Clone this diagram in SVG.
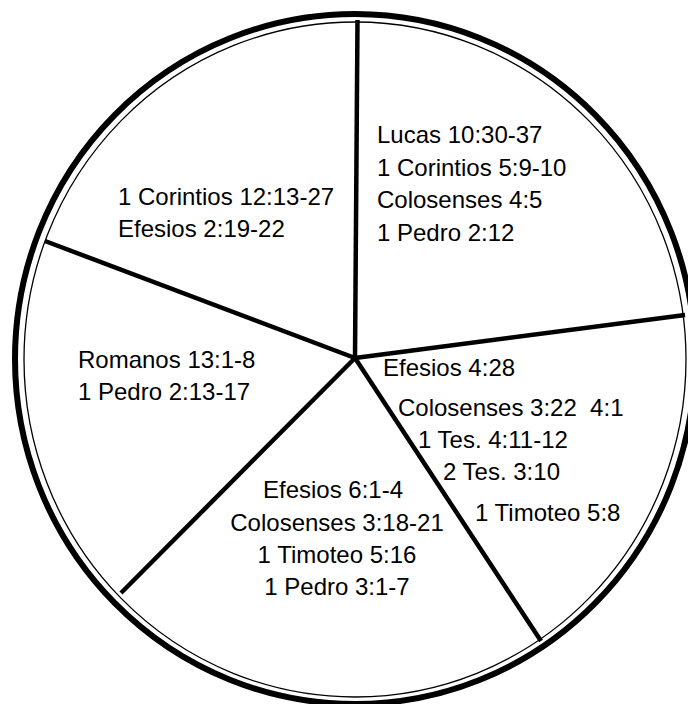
<svg xmlns="http://www.w3.org/2000/svg" width="688" height="704" viewBox="0 0 688 704">
<style>
.t{font-family:"Liberation Sans",Arial,Helvetica,sans-serif;font-size:24px;fill:#000}
.m{text-anchor:middle}
.spoke{stroke:#000;stroke-width:4.5;stroke-linecap:butt;fill:none}
</style>
<rect width="688" height="704" fill="#fff"/>
<g id="rim">
<ellipse cx="355" cy="359" rx="340" ry="345" fill="none" stroke="#000" stroke-width="6"/>
<ellipse cx="355" cy="359.5" rx="331" ry="337.5" fill="none" stroke="#000" stroke-width="1.3"/>
</g>
<g id="connectors">
<line class="spoke" x1="355" y1="358" x2="357.5" y2="20"/>
<line class="spoke" x1="355" y1="358" x2="685" y2="315"/>
<line class="spoke" x1="355" y1="358" x2="541" y2="641"/>
<line class="spoke" x1="355" y1="358" x2="121" y2="593"/>
<line class="spoke" x1="355" y1="358" x2="45" y2="241"/>
</g>
<g id="node-top-right" class="t">
<text x="377" y="143">Lucas 10:30-37</text>
<text x="377" y="176">1 Corintios 5:9-10</text>
<text x="377" y="208">Colosenses 4:5</text>
<text x="377" y="241">1 Pedro 2:12</text>
</g>
<g id="node-top-left" class="t">
<text x="118" y="205">1 Corintios 12:13-27</text>
<text x="118" y="237">Efesios 2:19-22</text>
</g>
<g id="node-left" class="t">
<text x="78" y="368">Romanos 13:1-8</text>
<text x="78" y="400">1 Pedro 2:13-17</text>
</g>
<g id="node-bottom" class="t m">
<text x="333" y="498">Efesios 6:1-4</text>
<text x="337" y="531">Colosenses 3:18-21</text>
<text x="337" y="563">1 Timoteo 5:16</text>
<text x="337" y="595">1 Pedro 3:1-7</text>
</g>
<g id="node-bottom-right" class="t">
<text x="383" y="376">Efesios 4:28</text>
<text x="398" y="416" xml:space="preserve">Colosenses 3:22  4:1</text>
<text x="418" y="448">1 Tes. 4:11-12</text>
<text x="443" y="480">2 Tes. 3:10</text>
<text x="475" y="521">1 Timoteo 5:8</text>
</g>
</svg>
